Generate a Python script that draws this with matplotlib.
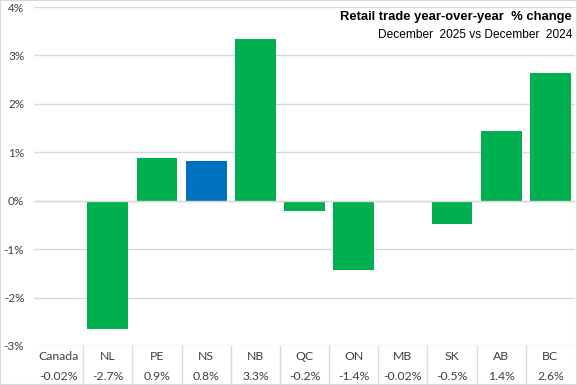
import matplotlib.pyplot as plt
import matplotlib.transforms as mtransforms

regions = ["Canada", "NL", "PE", "NS", "NB", "QC", "ON", "MB", "SK", "AB", "BC"]
change = [-0.02, -2.65, 0.89, 0.83, 3.33, -0.21, -1.43, -0.02, -0.48, 1.43, 2.64]
labels = ["-0.02%", "-2.7%", "0.9%", "0.8%", "3.3%", "-0.2%", "-1.4%", "-0.02%", "-0.5%", "1.4%", "2.6%"]
highlight = "NS"

green = "#00B050"
blue = "#0070C0"
grid_col = "#d9d9d9"
txt_col = "#404040"
title_font = ["Liberation Sans Narrow", "Liberation Sans"]

fig = plt.figure(figsize=(5.77, 3.85), dpi=100)
ax = fig.add_axes([34/577, 1 - 346/385, 541/577, 339/385])

x = list(range(len(regions)))
colors = [blue if r == highlight else green for r in regions]
ax.bar(x, change, width=0.83, color=colors, zorder=2)

ax.set_xlim(-0.5, len(regions) - 0.5)
ax.set_ylim(-3, 4)
ax.set_yticks(range(-3, 5))
ax.set_yticklabels([f"{v}%" for v in range(-3, 5)], fontsize=8.5, family="Lato", color=txt_col)
ax.tick_params(axis="y", length=0, pad=7)
ax.set_xticks([])
ax.grid(axis="y", color=grid_col, linewidth=1, zorder=0)
ax.axhline(0, color=grid_col, linewidth=1, zorder=3)
for s in ax.spines.values():
    s.set_visible(False)

# table under the axis
trans = mtransforms.blended_transform_factory(ax.transData, fig.transFigure)
for i, (r, lab) in enumerate(zip(regions, labels)):
    ax.text(i, 1 - 357/385, r, transform=trans, ha="center", va="center",
            fontsize=8.8, family="Lato", color=txt_col)
    ax.text(i, 1 - 377/385, lab, transform=trans, ha="center", va="center",
            fontsize=8.8, family="Lato", color=txt_col)
for i in range(len(regions) - 1):
    ax.plot([i + 0.5, i + 0.5], [1 - 346/385, 0], transform=trans,
            color=grid_col, linewidth=1, clip_on=False)

# figure border
fig.patches.append(plt.Rectangle((0, 0), 1, 1, transform=fig.transFigure,
                                 fill=False, edgecolor=grid_col, linewidth=1.5))

fig.text(572/577, 1 - 17/385, "Retail trade year-over-year  % change", ha="right", va="center",
         fontsize=9.4, fontweight="bold", family=title_font, color="black")
fig.text(572/577, 1 - 35/385, "December  2025 vs December  2024", ha="right", va="center",
         fontsize=8.6, family=title_font, color="black")

fig.savefig("out.png", dpi=100)
